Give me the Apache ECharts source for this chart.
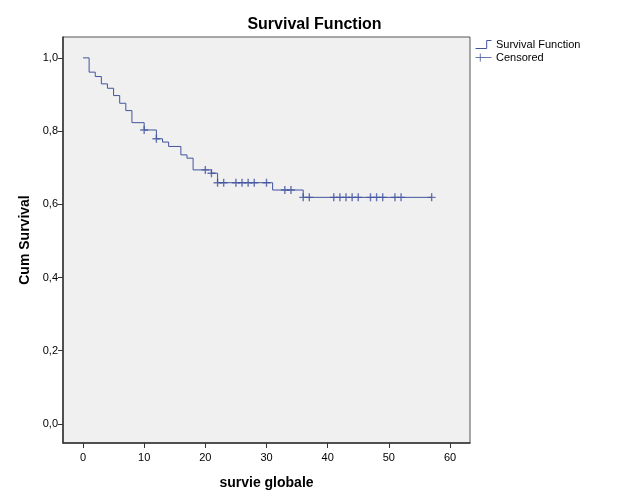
<!DOCTYPE html>
<html>
<head>
<meta charset="utf-8">
<script src="https://cdn.jsdelivr.net/npm/echarts@6/dist/echarts.min.js"></script>
<style>html,body{margin:0;padding:0;background:#fff}#c{width:629px;height:504px}</style>
</head>
<body>
<div id="c"></div>
<script>
// Kaplan-Meier step values
const eventTimes = [0, 1, 2, 3, 4, 5, 6, 7, 8, 10, 12, 13, 14, 16, 17, 18, 21, 22, 31, 36, 57];
const survival   = [1.0, 0.961, 0.949, 0.929, 0.917, 0.897, 0.876, 0.856, 0.823, 0.803, 0.779, 0.770, 0.758, 0.735, 0.726, 0.694, 0.685, 0.659, 0.639, 0.619, 0.619];
// censored observations
const censorTimes = [10, 12, 20, 21, 22, 23, 25, 26, 27, 28, 30, 33, 34, 36, 37, 41, 42, 43, 44, 45, 47, 48, 49, 51, 52, 57];
const censorSurv  = [0.803, 0.779, 0.694, 0.685, 0.659, 0.659, 0.659, 0.659, 0.659, 0.659, 0.659, 0.639, 0.639, 0.619, 0.619, 0.619, 0.619, 0.619, 0.619, 0.619, 0.619, 0.619, 0.619, 0.619, 0.619, 0.619];
const xTicks = [0, 10, 20, 30, 40, 50, 60];
const yTicks = [0, 0.2, 0.4, 0.6, 0.8, 1.0];

const blue = '#42549e';
const font = 'Arial, "Liberation Sans", sans-serif';

const chart = echarts.init(document.getElementById('c'), null, {renderer: 'canvas'});
chart.setOption({
  animation: false,
  backgroundColor: '#ffffff',
  title: {
    text: 'Survival Function',
    left: 'center',
    top: 12,
    textStyle: {fontFamily: font, fontSize: 16, fontWeight: 'bold', color: '#000'}
  },
  legend: {
    orient: 'vertical',
    left: 473,
    top: 38,
    padding: 0,
    itemWidth: 19,
    itemHeight: 8,
    itemGap: 0,
    textStyle: {fontFamily: font, fontSize: 11, color: '#000', padding: [0, 0, 0, -2]},
    data: [
      {name: 'Survival Function', icon: 'path://M0,10L14,10L14,0L20,0', itemStyle: {color: 'none', borderColor: blue, borderWidth: 1}},
      {name: 'Censored', icon: 'path://M0,5L20,5M6,0L6,10', itemStyle: {color: 'none', borderColor: blue, borderWidth: 1}}
    ]
  },
  grid: {
    left: 63, right: 159, top: 37, bottom: 61,
    show: true,
    backgroundColor: '#f0f0f0',
    borderColor: '#555',
    borderWidth: 1
  },
  xAxis: {
    type: 'value',
    min: -3.27, max: 63.27,
    name: 'survie globale',
    nameLocation: 'middle',
    nameGap: 33,
    nameTextStyle: {fontFamily: font, fontSize: 14, fontWeight: 'bold', color: '#000'},
    splitLine: {show: false},
    axisLine: {show: true, onZero: false, lineStyle: {color: '#333', width: 1.5}},
    axisTick: {show: true, customValues: xTicks, length: 5, lineStyle: {color: '#333'}},
    axisLabel: {customValues: xTicks, fontFamily: font, fontSize: 11, color: '#000', margin: 9}
  },
  yAxis: {
    type: 'value',
    min: -0.052, max: 1.057,
    name: 'Cum Survival',
    nameLocation: 'middle',
    nameRotate: 90,
    nameGap: 29,
    nameTextStyle: {fontFamily: font, fontSize: 14, fontWeight: 'bold', color: '#000'},
    splitLine: {show: false},
    axisLine: {show: true, onZero: false, lineStyle: {color: '#333', width: 1.5}},
    axisTick: {show: true, customValues: yTicks, length: 5, lineStyle: {color: '#333'}},
    axisLabel: {customValues: yTicks, fontFamily: font, fontSize: 11, color: '#000', margin: 5,
      formatter: v => v.toFixed(1).replace('.', ',')}
  },
  series: [
    {
      name: 'Survival Function',
      type: 'line',
      step: 'end',
      showSymbol: false,
      symbol: 'none',
      lineStyle: {color: blue, width: 1},
      itemStyle: {color: blue},
      data: eventTimes.map((t, i) => [t, survival[i]])
    },
    {
      name: 'Censored',
      type: 'scatter',
      symbol: 'path://M0,5L10,5M5,0L5,10',
      symbolSize: 8,
      itemStyle: {color: 'none', borderColor: blue, borderWidth: 1.4},
      data: censorTimes.map((t, i) => [t, censorSurv[i]])
    }
  ]
});
</script>
</body>
</html>
